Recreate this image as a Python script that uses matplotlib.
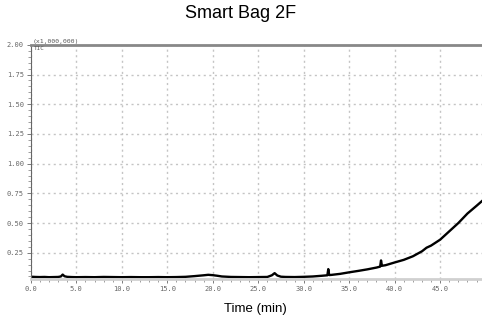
import matplotlib.pyplot as plt
import numpy as np

# <------------- Datos del cromatograma (TIC, x1,000,000) ------------->
time = [0.0, 0.5, 1.0, 1.5, 2.0, 2.5, 3.0, 3.3, 3.5, 3.7, 4.0, 4.5, 5.0, 6.0,
        7.0, 8.0, 9.0, 10.0, 11.0, 12.0, 13.0, 14.0, 15.0, 16.0, 17.0, 18.0,
        19.0, 19.5, 20.0, 20.5, 21.0, 22.0, 23.0, 24.0, 25.0, 26.0, 26.5,
        26.8, 27.1, 27.5, 28.0, 29.0, 30.0, 31.0, 32.0, 32.6, 32.7, 32.8,
        33.0, 34.0, 35.0, 36.0, 37.0, 38.0, 38.4, 38.5, 38.6, 39.0, 40.0,
        41.0, 42.0, 43.0, 43.5, 44.0, 45.0, 46.0, 47.0, 48.0, 49.0, 49.6]
tic = [0.048, 0.046, 0.045, 0.046, 0.044, 0.045, 0.046, 0.050, 0.066, 0.052,
       0.047, 0.045, 0.044, 0.045, 0.044, 0.046, 0.045, 0.044, 0.045, 0.044,
       0.044, 0.045, 0.044, 0.045, 0.047, 0.053, 0.060, 0.064, 0.061, 0.056,
       0.050, 0.046, 0.045, 0.044, 0.045, 0.046, 0.060, 0.078, 0.058, 0.048,
       0.046, 0.045, 0.047, 0.050, 0.056, 0.060, 0.112, 0.062, 0.063, 0.072,
       0.085, 0.097, 0.110, 0.125, 0.133, 0.185, 0.140, 0.145, 0.168, 0.190,
       0.220, 0.262, 0.292, 0.310, 0.360, 0.430, 0.500, 0.580, 0.645, 0.685]

xmajor = np.arange(0, 50, 5)
ymajor = np.arange(0.25, 2.01, 0.25)

fig = plt.figure(figsize=(4.82, 3.25), dpi=100)
ax = fig.add_axes([0.064, 0.142, 0.936, 0.720])
ax.plot(time, tic, color="#000", lw=1.7)
ax.set_xlim(0, 49.6)
ax.set_ylim(0.03, 2.0)

# <------------- Ejes y rejilla ------------->
ax.set_xticks(xmajor)
ax.set_xticklabels(["%.1f" % x for x in xmajor])
ax.set_xticks(np.arange(0, 50, 1), minor=True)
ax.set_yticks(ymajor)
ax.set_yticklabels(["%.2f" % y for y in ymajor])
ax.set_yticks(np.arange(0.05, 2.0, 0.05), minor=True)
ax.grid(True, which="major", ls=(0, (1.5, 2.5)), color="#c4c4c4", lw=1.0)
ax.tick_params(labelsize=5, labelcolor="#666", colors="#666",
               length=3, width=0.6, pad=2)
ax.tick_params(which="minor", length=2, width=0.5, colors="#777")
for lab in ax.get_xticklabels() + ax.get_yticklabels():
    lab.set_family("DejaVu Sans Mono")
ax.spines["right"].set_visible(False)
ax.spines["top"].set_color("#888")
ax.spines["top"].set_linewidth(2.0)
ax.spines["bottom"].set_color("#d0d0d0")
ax.spines["bottom"].set_linewidth(2.0)
ax.spines["left"].set_color("#666")
ax.spines["left"].set_linewidth(0.8)

ax.text(0.004, 1.003, "(x1,000,000)", transform=ax.transAxes, fontsize=4.6,
        color="#555", family="DejaVu Sans Mono", va="bottom", ha="left")
ax.text(0.007, 0.995, "TIC", transform=ax.transAxes, fontsize=4.3,
        color="#555", family="DejaVu Sans Mono", va="top", ha="left")

fig.text(0.5, 0.96, "Smart Bag 2F", ha="center", va="center",
         fontsize=13, family="Liberation Sans")
fig.text(0.53, 0.048, "Time (min)", ha="center", va="center",
         fontsize=9.5, family="Liberation Sans")

fig.savefig("out.png", dpi=100)
